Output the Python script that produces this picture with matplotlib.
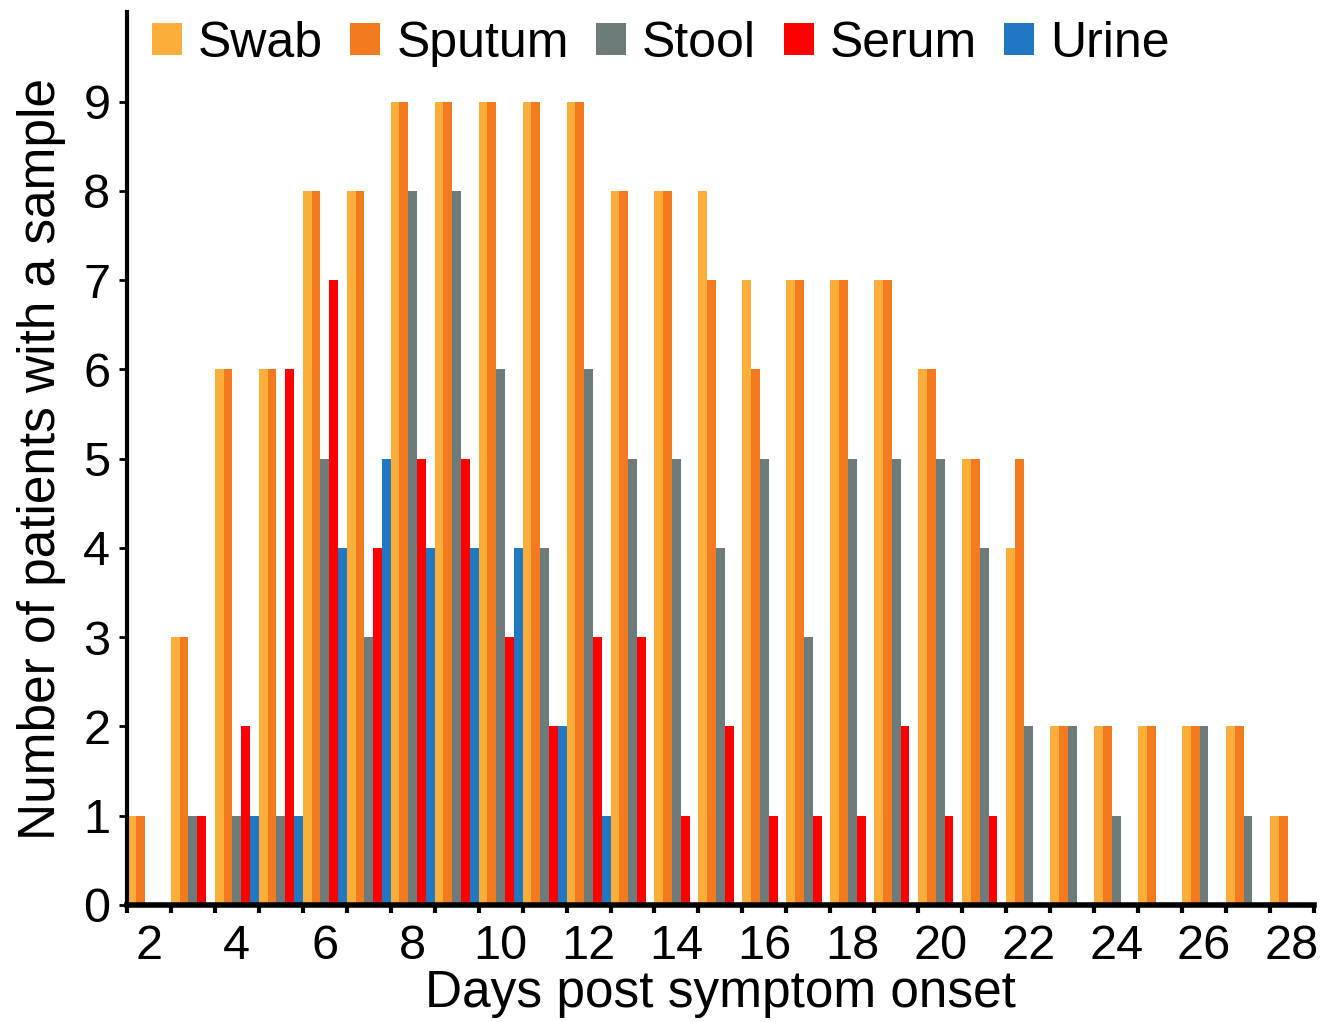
import numpy as np
import matplotlib.pyplot as plt
from matplotlib.ticker import FixedLocator

plt.rcParams['font.family'] = ['Liberation Sans', 'DejaVu Sans']

# data
days = list(range(2, 29))
swab   = [1, 3, 6, 6, 8, 8, 9, 9, 9, 9, 9, 8, 8, 8, 7, 7, 7, 7, 6, 5, 4, 2, 2, 2, 2, 2, 1]
sputum = [1, 3, 6, 6, 8, 8, 9, 9, 9, 9, 9, 8, 8, 7, 6, 7, 7, 7, 6, 5, 5, 2, 2, 2, 2, 2, 1]
stool  = [0, 1, 1, 1, 5, 3, 8, 8, 6, 4, 6, 5, 5, 4, 5, 3, 5, 5, 5, 4, 2, 2, 1, 0, 2, 1, 0]
serum  = [0, 1, 2, 6, 7, 4, 5, 5, 3, 2, 3, 3, 1, 2, 1, 1, 1, 2, 1, 1, 0, 0, 0, 0, 0, 0, 0]
urine  = [0, 0, 1, 1, 4, 5, 4, 4, 4, 2, 1, 0, 0, 0, 0, 0, 0, 0, 0, 0, 0, 0, 0, 0, 0, 0, 0]

series = [('Swab', swab, '#FBAF3A'),
          ('Sputum', sputum, '#F47A20'),
          ('Stool', stool, '#6E7B7B'),
          ('Serum', serum, '#FF0000'),
          ('Urine', urine, '#1F78C1')]

fig = plt.figure(figsize=(13.36, 10.22), dpi=100)
ax = fig.add_axes([0.095, 0.1145, 0.8885, 0.8735])

x = np.array(days)
w = 0.2
for i, (name, vals, col) in enumerate(series):
    ax.bar(x - 0.4 + i * w, vals, width=w, color=col, label=name, linewidth=0)

ax.set_xlim(1.5, 28.5)
ax.set_ylim(0, 10)
ax.set_yticks(range(10))
ax.set_xticks(range(2, 29, 2))
ax.xaxis.set_minor_locator(FixedLocator(np.arange(1.5, 29, 1)))
ax.tick_params(axis='x', which='major', length=0, labelsize=35, pad=14)
ax.tick_params(axis='x', which='minor', length=6, width=3, direction='out')
ax.tick_params(axis='y', length=6, width=2, labelsize=35, pad=6)

for s in ['top', 'right']:
    ax.spines[s].set_visible(False)
ax.spines['left'].set_linewidth(3)
ax.spines['bottom'].set_linewidth(4)

ax.set_xlabel('Days post symptom onset', fontsize=37, labelpad=0)
ax.set_ylabel('Number of patients with a sample', fontsize=37, labelpad=12)

ax.legend(loc='upper left', bbox_to_anchor=(0.004, 1.013), ncol=5, frameon=False,
          fontsize=36, handlelength=0.6, handleheight=0.6, handletextpad=0.32,
          columnspacing=0.55, borderaxespad=0)

fig.savefig('out.png', dpi=100)
